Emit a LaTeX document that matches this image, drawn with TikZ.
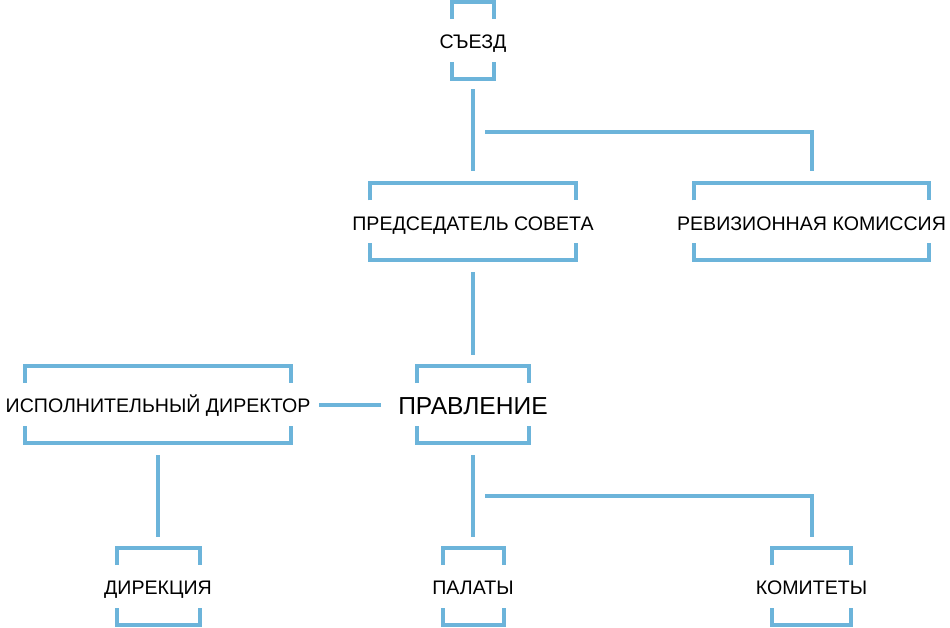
\documentclass[tikz,border=0pt]{standalone}
\usepackage{fontspec}
\setmainfont{Liberation Sans}
\definecolor{lineblue}{RGB}{108,180,218}
\newcommand\bxtext[1]{\makebox[0pt]{\smash{\raisebox{-1.5pt}{#1}}\vphantom{X}}}
\begin{document}
\begin{tikzpicture}[x=1pt,y=-1pt,
  bx/.style={draw=none, inner sep=0pt, outer sep=0pt, minimum width=#1, minimum height=77pt, font=\fontsize{19.6}{21}\selectfont},
  big/.style={font=\fontsize{24.6}{27}\selectfont},
  ln/.style={draw=lineblue, line width=4pt},
  br/.style={ln, line join=miter}]
\useasboundingbox (0,0) rectangle (950,628);

\node[bx=42]  (sz) at (473,40.5)  {\bxtext{СЪЕЗД}};
\node[bx=206] (ps) at (473,222)   {\bxtext{ПРЕДСЕДАТЕЛЬ СОВЕТА}};
\node[bx=235] (rk) at (811.5,222) {\bxtext{РЕВИЗИОННАЯ КОМИССИЯ}};
\node[bx=266] (id) at (158,404.5) {\bxtext{ИСПОЛНИТЕЛЬНЫЙ ДИРЕКТОР}};
\node[bx=112,big] (pv) at (473,404.5) {\bxtext{ПРАВЛЕНИЕ}};
\node[bx=83]  (dk) at (158,586.5) {\bxtext{ДИРЕКЦИЯ}};
\node[bx=61]  (pl) at (473,586.5) {\bxtext{ПАЛАТЫ}};
\node[bx=79]  (km) at (811.5,586.5) {\bxtext{КОМИТЕТЫ}};

\foreach \n in {sz,ps,rk,id,pv,dk,pl,km}{
  \draw[br] ([yshift=-17pt]\n.north west) -- (\n.north west) -- (\n.north east) -- ([yshift=-17pt]\n.north east);
  \draw[br] ([yshift=17pt]\n.south west) -- (\n.south west) -- (\n.south east) -- ([yshift=17pt]\n.south east);
}

\coordinate (j1) at (485,132);
\coordinate (j2) at (485,496);

\draw[ln] ([yshift=-10.5pt]sz.south) -- ([yshift=12.5pt]ps.north);
\draw[br] (j1) -| ([yshift=12.5pt]rk.north);
\draw[ln] ([yshift=-12pt]ps.south) -- ([yshift=11pt]pv.north);
\draw[ln] ([xshift=28pt]id.east) -- ([xshift=-36pt]pv.west);
\draw[ln] ([yshift=-12pt]id.south) -- ([yshift=11pt]dk.north);
\draw[ln] ([yshift=-12pt]pv.south) -- ([yshift=11pt]pl.north);
\draw[br] (j2) -| ([yshift=11pt]km.north);
\end{tikzpicture}
\end{document}
